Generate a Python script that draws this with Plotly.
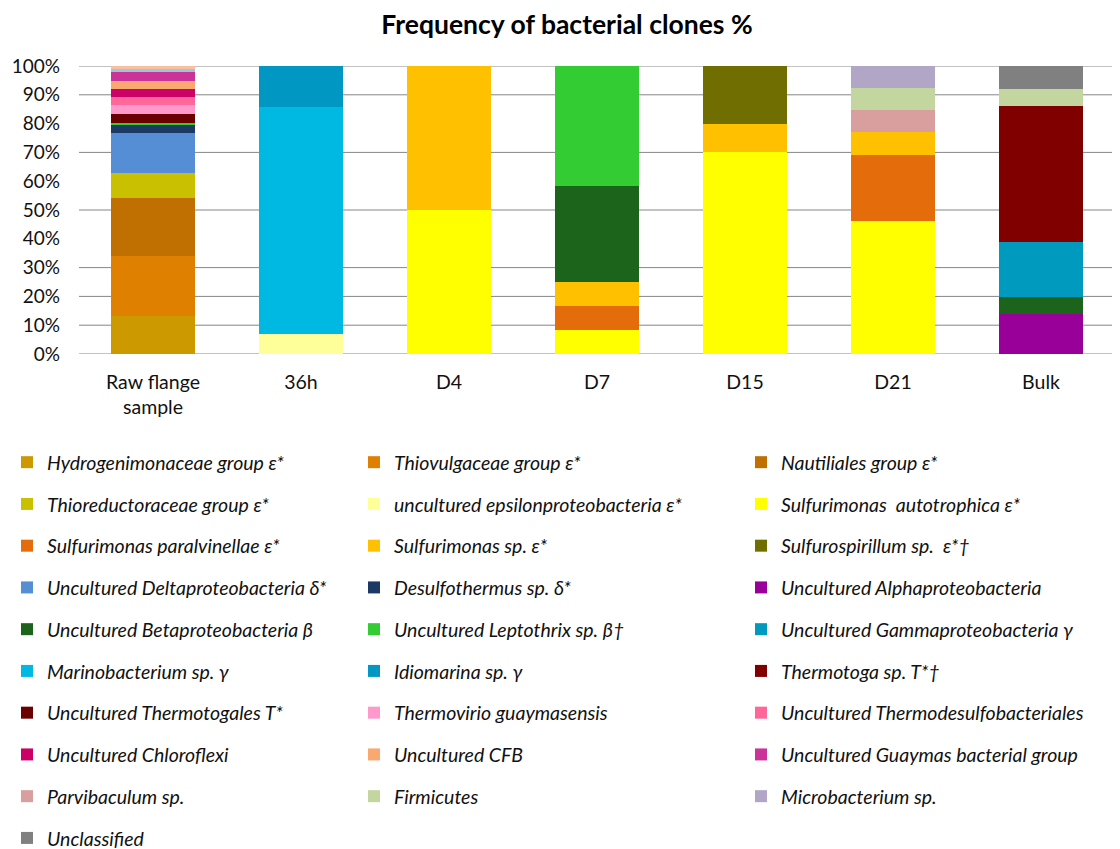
import plotly.graph_objects as go

categories = ["Raw flange<br>sample", "36h", "D4", "D7", "D15", "D21", "Bulk"]

series_names = [
    "Hydrogenimonaceae group ε*",
    "Thiovulgaceae group ε*",
    "Nautiliales group ε*",
    "Thioreductoraceae group ε*",
    "uncultured epsilonproteobacteria ε*",
    "Sulfurimonas  autotrophica ε*",
    "Sulfurimonas paralvinellae ε*",
    "Sulfurimonas sp. ε*",
    "Sulfurospirillum sp.  ε*†",
    "Uncultured Deltaproteobacteria δ*",
    "Desulfothermus sp. δ*",
    "Uncultured Alphaproteobacteria",
    "Uncultured Betaproteobacteria β",
    "Uncultured Leptothrix sp. β†",
    "Uncultured Gammaproteobacteria γ",
    "Marinobacterium sp. γ",
    "Idiomarina sp. γ",
    "Thermotoga sp. T*†",
    "Uncultured Thermotogales T*",
    "Thermovirio guaymasensis",
    "Uncultured Thermodesulfobacteriales",
    "Uncultured Chloroflexi",
    "Uncultured CFB",
    "Uncultured Guaymas bacterial group",
    "Parvibaculum sp.",
    "Firmicutes",
    "Microbacterium sp.",
    "Unclassified",
]

series_colors = [
    "#CC9900", "#E08000", "#C07000", "#C8C000", "#FFFF99", "#FFFF00",
    "#E46C0A", "#FFC000", "#716E00", "#558ED5", "#1C3864", "#990099",
    "#1C641C", "#33CC33", "#009ABF", "#00B9E3", "#0098C2", "#800000",
    "#6B0000", "#FF99CC", "#FF6699", "#CC0066", "#F9A86F", "#CC3399",
    "#D99E9E", "#C3D6A0", "#B2A6C6", "#808080",
]

#                    Raw   36h   D4    D7     D15   D21    Bulk
hydrogenimonaceae = [13.2, 0, 0, 0, 0, 0, 0]
thiovulgaceae     = [20.8, 0, 0, 0, 0, 0, 0]
nautiliales       = [20.1, 0, 0, 0, 0, 0, 0]
thioreductoraceae = [8.7, 0, 0, 0, 0, 0, 0]
unc_epsilon       = [0, 6.9, 0, 0, 0, 0, 0]
s_autotrophica    = [0, 0, 50.0, 8.33, 70.0, 46.15, 0]
s_paralvinellae   = [0, 0, 0, 8.33, 0, 23.08, 0]
sulfurimonas_sp   = [0, 0, 50.0, 8.33, 10.0, 7.69, 0]
sulfurospirillum  = [0, 0, 0, 0, 20.0, 0, 0]
unc_delta         = [13.9, 0, 0, 0, 0, 0, 0]
desulfothermus    = [2.8, 0, 0, 0, 0, 0, 0]
unc_alpha         = [0, 0, 0, 0, 0, 0, 13.9]
unc_beta          = [0, 0, 0, 33.33, 0, 0, 5.9]
leptothrix        = [0.7, 0, 0, 41.67, 0, 0, 0]
unc_gamma         = [0, 0, 0, 0, 0, 0, 19.1]
marinobacterium   = [0, 78.9, 0, 0, 0, 0, 0]
idiomarina        = [0, 14.2, 0, 0, 0, 0, 0]
thermotoga        = [0, 0, 0, 0, 0, 0, 47.2]
unc_thermotogales = [3.1, 0, 0, 0, 0, 0, 0]
thermovibrio      = [3.1, 0, 0, 0, 0, 0, 0]
thermodesulfo     = [2.8, 0, 0, 0, 0, 0, 0]
chloroflexi       = [2.8, 0, 0, 0, 0, 0, 0]
cfb               = [2.8, 0, 0, 0, 0, 0, 0]
guaymas           = [3.1, 0, 0, 0, 0, 0, 0]
parvibaculum      = [0, 0, 0, 0, 0, 7.69, 0]
firmicutes        = [0, 0, 0, 0, 0, 7.69, 5.9]
microbacterium    = [0, 0, 0, 0, 0, 7.69, 0]
unclassified      = [0, 0, 0, 0, 0, 0, 8.0]

# two thin unlabeled slivers at the top of the raw flange bar (not in legend)
extra_names = ["unlabelled series A", "unlabelled series B"]
extra_colors = ["#9DC6DA", "#F8C0A0"]
extra_a = [1.0, 0, 0, 0, 0, 0, 0]
extra_b = [1.0, 0, 0, 0, 0, 0, 0]

series_values = [
    hydrogenimonaceae, thiovulgaceae, nautiliales, thioreductoraceae,
    unc_epsilon, s_autotrophica, s_paralvinellae, sulfurimonas_sp,
    sulfurospirillum, unc_delta, desulfothermus, unc_alpha, unc_beta,
    leptothrix, unc_gamma, marinobacterium, idiomarina, thermotoga,
    unc_thermotogales, thermovibrio, thermodesulfo, chloroflexi, cfb,
    guaymas, parvibaculum, firmicutes, microbacterium, unclassified,
]

grid_levels = [0, 10, 20, 30, 50, 70, 90, 100]
y_ticks = [0, 10, 20, 30, 40, 50, 60, 70, 80, 90, 100]

FONT = "Lato"
OFF = 8  # page body margin
W, H = 1120 - OFF, 849 - OFF
L, T = 79 - OFF, 66 - OFF
R = W - (1115 - OFF)
B = H - (354 - OFF)
PW, PH = W - L - R, H - T - B
legend_ids = ["legend", "legend2", "legend3"]


def px_x(screen_px):
    return (screen_px - OFF - L) / PW


def px_y(screen_py):
    return (H - B - (screen_py - OFF)) / PH


fig = go.Figure()
for i, (name, color, vals) in enumerate(zip(series_names, series_colors, series_values)):
    fig.add_trace(go.Bar(
        x=categories, y=[v / 100 for v in vals], name=name,
        marker=dict(color=color, line=dict(width=0)),
        legend=legend_ids[i % 3], legendgroup=name,
    ))
for name, color, vals in zip(extra_names, extra_colors, [extra_a, extra_b]):
    fig.add_trace(go.Bar(
        x=categories, y=[v / 100 for v in vals], name=name,
        marker=dict(color=color, line=dict(width=0)), showlegend=False,
    ))

for lv in grid_levels:
    fig.add_shape(type="line", xref="paper", yref="y", x0=0, x1=1,
                  y0=lv / 100, y1=lv / 100, line=dict(color="#868686", width=1),
                  layer="below")

legend_common = dict(
    orientation="v", xanchor="left", yanchor="top", y=px_y(443),
    bgcolor="rgba(0,0,0,0)",
    font=dict(family=FONT, size=19.5, color="#111111", style="italic"),
    tracegroupgap=13.4, traceorder="grouped",
)

fig.update_layout(
    width=W, height=H,
    paper_bgcolor="white", plot_bgcolor="white",
    barmode="stack", bargap=0.43,
    margin=dict(l=L, r=R, t=T, b=B, autoexpand=False),
    title=dict(text="<b>Frequency of bacterial clones %</b>", x=(567 - OFF) / W,
               xanchor="center", y=1 - (25 - OFF) / H, yanchor="middle",
               yref="container",
               font=dict(family=FONT, size=26.5, color="#000000")),
    xaxis=dict(showgrid=False, showline=False, zeroline=False, ticks="",
               ticklabelstandoff=14,
               tickfont=dict(family=FONT, size=19.5, color="#111111")),
    yaxis=dict(range=[0, 1], tickvals=[t / 100 for t in y_ticks],
               ticktext=[f"{t}%" for t in y_ticks], showgrid=False,
               zeroline=False, showline=False, ticks="",
               ticklabelstandoff=18,
               tickfont=dict(family=FONT, size=19, color="#111111")),
    legend=dict(legend_common, x=px_x(7)),
    legend2=dict(legend_common, x=px_x(354)),
    legend3=dict(legend_common, x=px_x(741)),
)

fig.write_html("out.html")
